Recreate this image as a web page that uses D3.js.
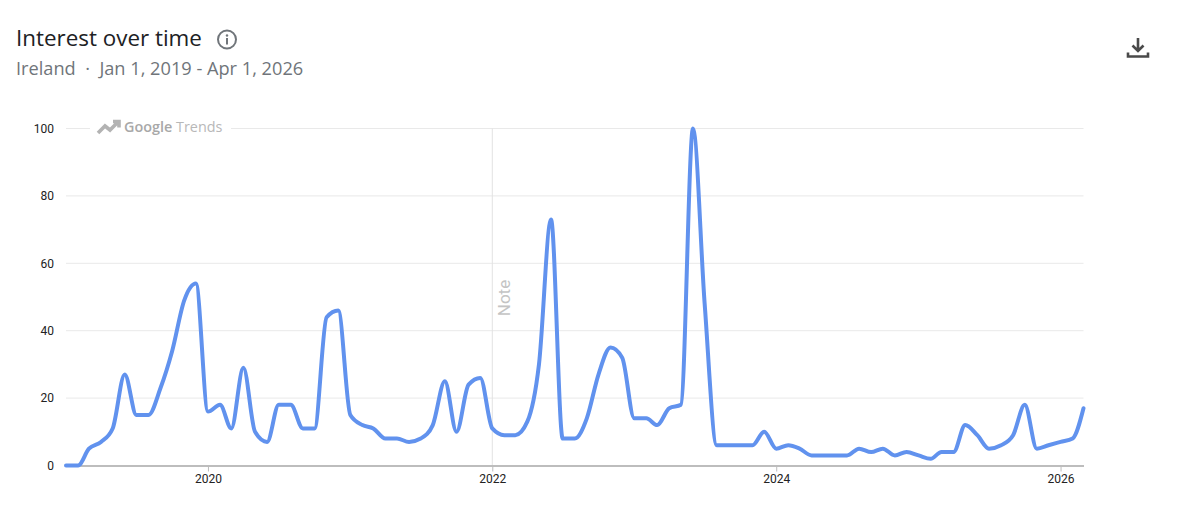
<!DOCTYPE html>
<html>
<head>
<meta charset="utf-8">
<title>Interest over time</title>
<script src="https://cdn.jsdelivr.net/npm/d3@7"></script>
<style>
    html, body { margin: 0; padding: 0; background: #fff; }
    svg { display: block; }
    .yaxis text, .xaxis text { font-family: Roboto, sans-serif; font-size: 12px; fill: #222; }
</style>
</head>
<body>
<script>
// monthly values, Jan 2019 - Mar 2026
var months = d3.timeMonth.range(new Date(2019, 0, 1), new Date(2026, 3, 1));
var interest = [
    0, 0, 5, 7, 11, 27, 15, 15, 23, 34, 49, 54,
    16, 18, 11, 29, 10, 7, 18, 18, 11, 11, 44, 46,
    15, 12, 11, 8, 8, 7, 8, 12, 25, 10, 24, 26,
    11, 9, 9, 13, 30, 73, 8, 8, 14, 27, 35, 32,
    14, 14, 12, 17, 18, 100, 48, 6, 6, 6, 6, 10,
    5, 6, 5, 3, 3, 3, 3, 5, 4, 5, 3, 4,
    3, 2, 4, 4, 12, 9, 5, 6, 9, 18, 5, 6,
    7, 8, 17
];
var yTicks = [0, 20, 40, 60, 80, 100];
var xTicks = [new Date(2020, 0, 1), new Date(2022, 0, 1), new Date(2024, 0, 1), new Date(2026, 0, 1)];

var width = 1182,
    height = 520;

var svg = d3.select("body").append("svg")
    .attr("width", width)
    .attr("height", height);

var x = d3.scaleTime()
    .domain([months[0], months[months.length - 1]])
    .range([66, 1083.5]);

var y = d3.scaleLinear()
    .domain([0, 100])
    .range([465.5, 128.5]);

// header
svg.append("text")
    .attr("x", 16).attr("y", 46)
    .style("font-family", "'Open Sans', sans-serif")
    .style("font-size", "22.4px")
    .style("font-weight", 500)
    .style("fill", "#202124")
    .text("Interest over time");

var info = svg.append("g").attr("transform", "translate(227,39.5)");
info.append("circle").attr("r", 9).attr("fill", "none").attr("stroke", "#70757a").attr("stroke-width", 2);
info.append("circle").attr("cy", -4).attr("r", 1.2).attr("fill", "#70757a");
info.append("rect").attr("x", -1).attr("y", -1.5).attr("width", 2).attr("height", 6.5).attr("fill", "#70757a");

svg.append("text")
    .attr("x", 16).attr("y", 75)
    .style("font-family", "'Open Sans', sans-serif")
    .style("font-size", "18.2px")
    .style("fill", "#70757a")
    .attr("xml:space", "preserve")
    .text("Ireland  \u00b7  Jan 1, 2019 - Apr 1, 2026");

// download icon
svg.append("path")
    .attr("transform", "translate(1126,36)")
    .attr("d", "M12 2v12.5 M6.5 9.5l5.5 5.5 5.5-5.5 M2 16.5v4h20v-4")
    .attr("fill", "none")
    .attr("stroke", "#4a4a4a")
    .attr("stroke-width", 2.6);

// gridlines
svg.append("g").selectAll("line")
    .data(yTicks.filter(function(d) { return d > 0; }))
    .enter().append("line")
    .attr("x1", x.range()[0])
    .attr("x2", x.range()[1])
    .attr("y1", function(d) { return y(d); })
    .attr("y2", function(d) { return y(d); })
    .attr("stroke", "#e9e9e9");

// note line at 2022
var noteDate = new Date(2022, 0, 1);
svg.append("line")
    .attr("x1", x(noteDate)).attr("x2", x(noteDate))
    .attr("y1", y(100)).attr("y2", y(0))
    .attr("stroke", "#e2e2e2");

svg.append("text")
    .attr("transform", "translate(510,298) rotate(-90)")
    .attr("text-anchor", "middle")
    .style("font-family", "Roboto, sans-serif")
    .style("font-size", "17px")
    .style("fill", "#c4c4c4")
    .text("Note");

// axes
var yAxis = d3.axisLeft(y).tickValues(yTicks).tickSize(0).tickPadding(12);
var yG = svg.append("g").attr("class", "yaxis").attr("transform", "translate(66,0)").call(yAxis);
yG.select(".domain").remove();

var xAxis = d3.axisBottom(x).tickValues(xTicks).tickFormat(d3.timeFormat("%Y")).tickSize(6).tickPadding(3).tickSizeOuter(0);
var xG = svg.append("g").attr("class", "xaxis").attr("transform", "translate(0,465.5)").call(xAxis);
xG.select(".domain").attr("stroke", "#bdbdbd").attr("stroke-width", 2);
xG.selectAll(".tick line").attr("stroke", "#bdbdbd");

// logo sits on top of the 100 gridline
svg.append("rect").attr("x", 90).attr("y", 118).attr("width", 141).attr("height", 20).attr("fill", "#fff");
svg.append("path")
    .attr("d", "M98 133l7-7 5 4 8-8 M113 121.5h6v6")
    .attr("fill", "none")
    .attr("stroke", "#b3b3b3")
    .attr("stroke-width", 3.6);
var logo = svg.append("text")
    .attr("x", 124).attr("y", 132)
    .style("font-family", "'Open Sans', sans-serif")
    .style("font-size", "14.4px");
logo.append("tspan").style("fill", "#a8a8a8").style("font-weight", 600).text("Google ");
logo.append("tspan").style("fill", "#b8b8b8").text("Trends");

// series line
var line = d3.line()
    .x(function(d, i) { return x(months[i]); })
    .y(function(d) { return y(d); })
    .curve(d3.curveMonotoneX);

svg.append("path")
    .datum(interest)
    .attr("d", line)
    .attr("fill", "none")
    .attr("stroke", "#6192ee")
    .attr("stroke-width", 4)
    .attr("stroke-linecap", "round")
    .attr("stroke-linejoin", "round");
</script>
</body>
</html>
